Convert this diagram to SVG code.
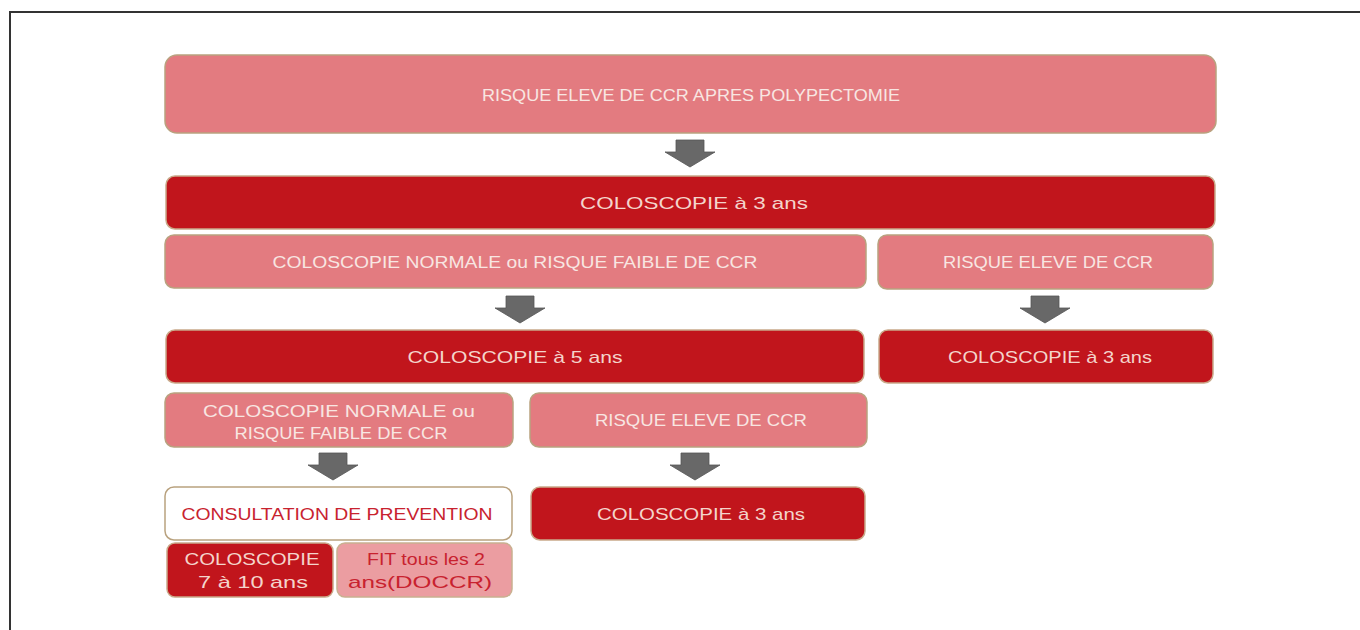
<svg xmlns="http://www.w3.org/2000/svg" width="1360" height="630" viewBox="0 0 1360 630">
<defs>
<style>
.pink{fill:#e37b80;stroke:#b9a27f;stroke-width:1.5}
.dark{fill:#c1151c;stroke:#c9a98a;stroke-width:1.5}
.white{fill:#ffffff;stroke:#b9a27f;stroke-width:1.5}
.light{fill:#eb9da1;stroke:#c9b090;stroke-width:1.5}
.t{font-family:"Liberation Sans",Arial,sans-serif;font-size:17px;text-anchor:middle;dominant-baseline:central}
.tp{fill:#f8e6e2}
.td{fill:#f4d4cb}
.tr{fill:#c8222f}
.arrow{fill:#686868;stroke:#555555;stroke-width:0.8}
</style>
<path id="arr" d="M-14,0 H14 V12 H25 L0,27 L-25,12 H-14 Z"/>
</defs>
<g id="frame" fill="none" stroke="#333333" stroke-width="2">
<path d="M10,630 V12 H1360"/>
</g>
<g id="connectors">
<use href="#arr" class="arrow" x="690" y="140"/>
<use href="#arr" class="arrow" x="520" y="296"/>
<use href="#arr" class="arrow" x="1045" y="296"/>
<use href="#arr" class="arrow" x="333" y="453"/>
<use href="#arr" class="arrow" x="695" y="453"/>
</g>
<g id="n1"><rect class="pink" x="165" y="55" width="1051" height="78" rx="12"/><text class="t tp" x="691" y="95" textLength="418" lengthAdjust="spacingAndGlyphs">RISQUE ELEVE DE CCR APRES POLYPECTOMIE</text></g>
<g id="n2"><rect class="dark" x="166" y="176" width="1049" height="53" rx="9"/><text class="t td" x="694" y="203" textLength="228" lengthAdjust="spacingAndGlyphs">COLOSCOPIE à 3 ans</text></g>
<g id="n3"><rect class="pink" x="165" y="235" width="701" height="53" rx="9"/><text class="t tp" x="515" y="262" textLength="485" lengthAdjust="spacingAndGlyphs">COLOSCOPIE NORMALE ou RISQUE FAIBLE DE CCR</text></g>
<g id="n4"><rect class="pink" x="878" y="235" width="335" height="54" rx="9"/><text class="t tp" x="1048" y="262" textLength="210" lengthAdjust="spacingAndGlyphs">RISQUE ELEVE DE CCR</text></g>
<g id="n5"><rect class="dark" x="166" y="330" width="698" height="53" rx="9"/><text class="t td" x="515" y="357" textLength="215" lengthAdjust="spacingAndGlyphs">COLOSCOPIE à 5 ans</text></g>
<g id="n6"><rect class="dark" x="879" y="330" width="334" height="53" rx="9"/><text class="t td" x="1050" y="357" textLength="204" lengthAdjust="spacingAndGlyphs">COLOSCOPIE à 3 ans</text></g>
<g id="n7"><rect class="pink" x="165" y="393" width="348" height="54" rx="9"/><text class="t tp" x="339" y="411" textLength="272" lengthAdjust="spacingAndGlyphs">COLOSCOPIE NORMALE ou</text><text class="t tp" x="341" y="433" textLength="213" lengthAdjust="spacingAndGlyphs">RISQUE FAIBLE DE CCR</text></g>
<g id="n8"><rect class="pink" x="530" y="393" width="337" height="54" rx="9"/><text class="t tp" x="701" y="420" textLength="212" lengthAdjust="spacingAndGlyphs">RISQUE ELEVE DE CCR</text></g>
<g id="n9"><rect class="white" x="165" y="487" width="347" height="53" rx="9"/><text class="t tr" x="337" y="514" textLength="311" lengthAdjust="spacingAndGlyphs">CONSULTATION DE PREVENTION</text></g>
<g id="n10"><rect class="dark" x="531" y="487" width="334" height="53" rx="9"/><text class="t td" x="701" y="514" textLength="208" lengthAdjust="spacingAndGlyphs">COLOSCOPIE à 3 ans</text></g>
<g id="n11"><rect class="dark" x="167" y="543" width="166" height="54" rx="8"/><text class="t td" x="252" y="559" textLength="135" lengthAdjust="spacingAndGlyphs">COLOSCOPIE</text><text class="t td" x="253" y="582" textLength="110" lengthAdjust="spacingAndGlyphs">7 à 10 ans</text></g>
<g id="n12"><rect class="light" x="337" y="543" width="175" height="54" rx="8"/><text class="t tr" x="426" y="559" textLength="118" lengthAdjust="spacingAndGlyphs">FIT tous les 2</text><text class="t tr" x="420" y="582" textLength="144" lengthAdjust="spacingAndGlyphs">ans(DOCCR)</text></g>
</svg>
